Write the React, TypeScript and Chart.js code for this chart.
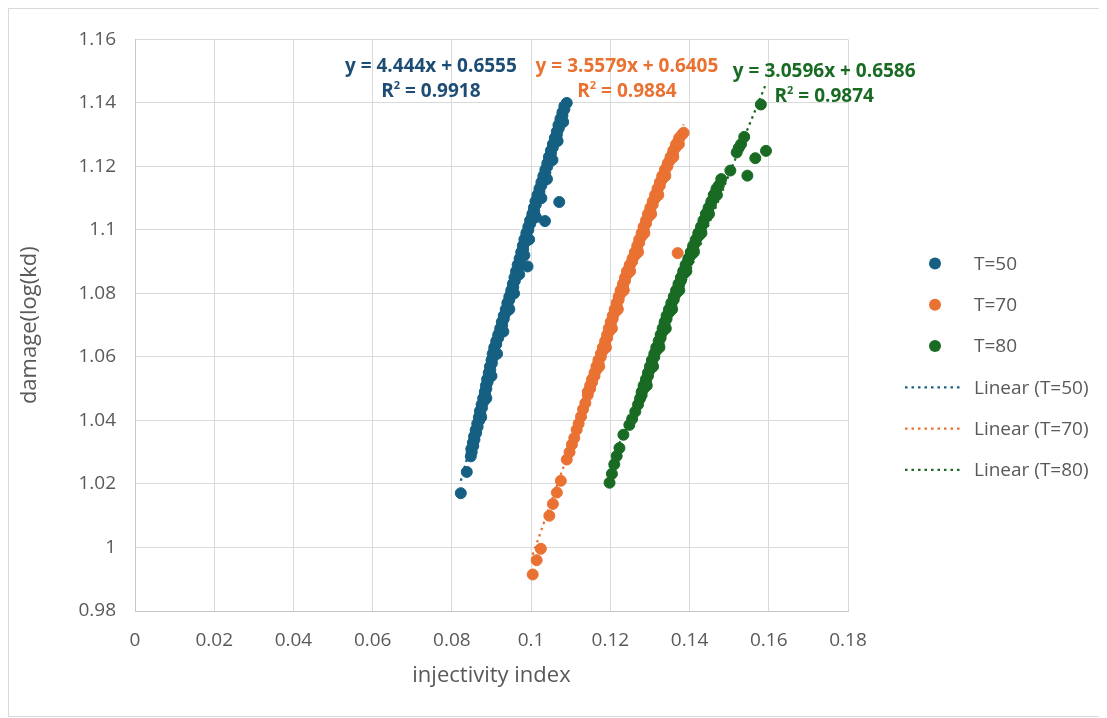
import React, { useEffect, useRef } from "react";
import { Chart, registerables } from "chart.js";

Chart.register(...registerables);

const FONT = "'Open Sans', 'DejaVu Sans', sans-serif";
const TEXT_GRAY = "#595959";

// ---- axis ticks ----
const xTickValues = [0, 0.02, 0.04, 0.06, 0.08, 0.1, 0.12, 0.14, 0.16, 0.18];
const xTickLabels = ["0", "0.02", "0.04", "0.06", "0.08", "0.1", "0.12", "0.14", "0.16", "0.18"];
const yTickValues = [0.98, 1, 1.02, 1.04, 1.06, 1.08, 1.1, 1.12, 1.14, 1.16];
const yTickLabels = ["0.98", "1", "1.02", "1.04", "1.06", "1.08", "1.1", "1.12", "1.14", "1.16"];

// ---- series: [injectivity index, damage] ----
const t50Points = [
  [0.08225, 1.0171], [0.08376, 1.0238], [0.08477, 1.0287],
  [0.0850, 1.030], [0.0854, 1.032], [0.0857, 1.034], [0.0861, 1.036], [0.0865, 1.038],
  [0.0869, 1.040], [0.0872, 1.042], [0.0876, 1.044], [0.0880, 1.046], [0.0884, 1.048],
  [0.0887, 1.050], [0.0890, 1.052], [0.0894, 1.054], [0.0897, 1.056], [0.0901, 1.058],
  [0.0904, 1.060], [0.0907, 1.062], [0.0912, 1.064], [0.0917, 1.066], [0.0922, 1.068],
  [0.0927, 1.070], [0.0931, 1.072], [0.0936, 1.074], [0.0941, 1.076], [0.0945, 1.078],
  [0.0950, 1.080], [0.0955, 1.082], [0.0959, 1.084], [0.0963, 1.086], [0.0967, 1.088],
  [0.0971, 1.090], [0.0976, 1.092], [0.0980, 1.094], [0.0984, 1.096], [0.0988, 1.098],
  [0.0993, 1.100], [0.0998, 1.102], [0.1003, 1.104], [0.1008, 1.106], [0.1012, 1.108],
  [0.1016, 1.110], [0.1021, 1.112], [0.1026, 1.114], [0.1031, 1.116], [0.1036, 1.118],
  [0.1041, 1.120], [0.1046, 1.122], [0.1050, 1.124], [0.1055, 1.126], [0.1060, 1.128],
  [0.1065, 1.130], [0.1070, 1.132], [0.1074, 1.134], [0.1079, 1.136], [0.1084, 1.138],
  [0.1090, 1.140],
  [0.0849, 1.031], [0.0853, 1.033], [0.0856, 1.035], [0.0860, 1.037], [0.0864, 1.039],
  [0.0868, 1.041], [0.0871, 1.043], [0.0875, 1.045], [0.0879, 1.047], [0.0883, 1.049],
  [0.0886, 1.051], [0.0889, 1.053], [0.0893, 1.055], [0.0896, 1.057], [0.0900, 1.059],
  [0.0903, 1.061], [0.0907, 1.063], [0.0912, 1.065], [0.0917, 1.067], [0.0922, 1.069],
  [0.0926, 1.071], [0.0931, 1.073], [0.0936, 1.075], [0.0940, 1.077], [0.0945, 1.079],
  [0.0950, 1.081], [0.0954, 1.083], [0.0958, 1.085], [0.0962, 1.087], [0.0966, 1.089],
  [0.0971, 1.091], [0.0975, 1.093], [0.0979, 1.095], [0.0983, 1.097], [0.0988, 1.099],
  [0.0993, 1.101], [0.0998, 1.103], [0.1003, 1.105], [0.1007, 1.107], [0.1011, 1.109],
  [0.1016, 1.111], [0.1021, 1.113], [0.1026, 1.115], [0.1031, 1.117], [0.1036, 1.119],
  [0.1041, 1.121], [0.1045, 1.123], [0.1050, 1.125], [0.1055, 1.127], [0.1060, 1.129],
  [0.1065, 1.131], [0.1069, 1.133], [0.1074, 1.135], [0.1079, 1.137], [0.1084, 1.139],
  [0.0874, 1.041], [0.0887, 1.047], [0.0900, 1.054], [0.0914, 1.061], [0.0930, 1.068],
  [0.0945, 1.075], [0.0957, 1.080], [0.0970, 1.086], [0.0983, 1.092], [0.0995, 1.097],
  [0.1012, 1.104], [0.1026, 1.110], [0.1040, 1.116], [0.1054, 1.122], [0.1067, 1.128],
  [0.1081, 1.134],
  [0.1071, 1.1088], [0.1035, 1.1028], [0.0998, 1.1030], [0.0991, 1.0885], [0.1009, 1.1045],
];

const t70Points = [
  [0.1004, 0.9915], [0.1014, 0.9960], [0.10245, 0.9996], [0.1046, 1.0100], [0.1055, 1.0137],
  [0.1065, 1.0173], [0.1075, 1.0210], [0.1090, 1.0277], [0.1097, 1.0300], [0.1103, 1.0324],
  [0.1109, 1.0345], [0.1115, 1.0371], [0.1120, 1.0390], [0.1126, 1.0412], [0.1131, 1.0435],
  [0.1137, 1.0455],
  [0.1143, 1.048], [0.1149, 1.050], [0.1154, 1.052], [0.1160, 1.054], [0.1165, 1.056],
  [0.1170, 1.058], [0.1176, 1.060], [0.1181, 1.062], [0.1187, 1.064], [0.1192, 1.066],
  [0.1197, 1.068], [0.1201, 1.070], [0.1206, 1.072], [0.1211, 1.074], [0.1216, 1.076],
  [0.1221, 1.078], [0.1226, 1.080], [0.1232, 1.082], [0.1237, 1.084], [0.1242, 1.086],
  [0.1248, 1.088], [0.1255, 1.090], [0.1262, 1.092], [0.1268, 1.094], [0.1273, 1.096],
  [0.1279, 1.098], [0.1284, 1.100], [0.1290, 1.102], [0.1295, 1.104], [0.1301, 1.106],
  [0.1307, 1.108], [0.1313, 1.110], [0.1319, 1.112], [0.1325, 1.114], [0.1331, 1.116],
  [0.1337, 1.118], [0.1344, 1.120], [0.1351, 1.122], [0.1358, 1.124], [0.1365, 1.126],
  [0.1372, 1.128], [0.1381, 1.130], [0.1385, 1.1306],
  [0.1143, 1.049], [0.1149, 1.051], [0.1154, 1.053], [0.1160, 1.055], [0.1165, 1.057],
  [0.1170, 1.059], [0.1176, 1.061], [0.1181, 1.063], [0.1187, 1.065], [0.1192, 1.067],
  [0.1196, 1.069], [0.1201, 1.071], [0.1206, 1.073], [0.1211, 1.075], [0.1216, 1.077],
  [0.1221, 1.079], [0.1226, 1.081], [0.1232, 1.083], [0.1237, 1.085], [0.1242, 1.087],
  [0.1249, 1.089], [0.1256, 1.091], [0.1262, 1.093], [0.1268, 1.095], [0.1273, 1.097],
  [0.1279, 1.099], [0.1284, 1.101], [0.1290, 1.103], [0.1295, 1.105], [0.1301, 1.107],
  [0.1307, 1.109], [0.1313, 1.111], [0.1319, 1.113], [0.1325, 1.115], [0.1331, 1.117],
  [0.1338, 1.119], [0.1345, 1.121], [0.1352, 1.123], [0.1359, 1.125], [0.1366, 1.127],
  [0.1374, 1.129],
  [0.1172, 1.057], [0.1189, 1.063], [0.1204, 1.069], [0.1219, 1.075], [0.1234, 1.081],
  [0.1250, 1.087], [0.1270, 1.093], [0.1286, 1.099], [0.1303, 1.105], [0.1321, 1.111],
  [0.1339, 1.117], [0.1359, 1.123], [0.1373, 1.127],
  [0.1370, 1.0927],
];

const t80Points = [
  [0.1198, 1.0204], [0.1204, 1.0232], [0.1210, 1.0262], [0.1216, 1.0288], [0.1223, 1.0313],
  [0.1233, 1.0355], [0.1248, 1.0386], [0.1255, 1.0405], [0.1263, 1.0428], [0.1270, 1.0450],
  [0.1275, 1.0469],
  [0.1279, 1.048], [0.1284, 1.050], [0.1290, 1.052], [0.1295, 1.054], [0.1300, 1.056],
  [0.1305, 1.058], [0.1311, 1.060], [0.1316, 1.062], [0.1322, 1.064], [0.1327, 1.066],
  [0.1332, 1.068], [0.1337, 1.070], [0.1342, 1.072], [0.1348, 1.074], [0.1354, 1.076],
  [0.1360, 1.078], [0.1366, 1.080], [0.1372, 1.082], [0.1378, 1.084], [0.1384, 1.086],
  [0.1390, 1.088], [0.1396, 1.090], [0.1403, 1.092], [0.1409, 1.094], [0.1415, 1.096],
  [0.1422, 1.098], [0.1428, 1.100], [0.1435, 1.102], [0.1441, 1.104], [0.1447, 1.106],
  [0.1454, 1.108], [0.1461, 1.110], [0.1467, 1.112], [0.1474, 1.114],
  [0.1279, 1.049], [0.1284, 1.051], [0.1290, 1.053], [0.1295, 1.055], [0.1300, 1.057],
  [0.1305, 1.059], [0.1311, 1.061], [0.1316, 1.063], [0.1322, 1.065], [0.1327, 1.067],
  [0.1332, 1.069], [0.1337, 1.071], [0.1342, 1.073], [0.1348, 1.075], [0.1354, 1.077],
  [0.1360, 1.079], [0.1366, 1.081], [0.1372, 1.083], [0.1378, 1.085], [0.1384, 1.087],
  [0.1390, 1.089], [0.1397, 1.091], [0.1403, 1.093], [0.1409, 1.095], [0.1416, 1.097],
  [0.1422, 1.099], [0.1429, 1.101], [0.1435, 1.103], [0.1441, 1.105], [0.1448, 1.107],
  [0.1455, 1.109], [0.1461, 1.111], [0.1468, 1.113],
  [0.1292, 1.051], [0.1308, 1.057], [0.1324, 1.063], [0.1340, 1.069], [0.1356, 1.075],
  [0.1374, 1.081], [0.1392, 1.087], [0.1411, 1.093], [0.1430, 1.099], [0.1449, 1.105],
  [0.1469, 1.111],
  [0.1480, 1.1160], [0.1503, 1.1187], [0.1519, 1.1244], [0.1524, 1.1258], [0.1530, 1.1270],
  [0.1538, 1.1293], [0.1580, 1.1395],
  [0.1546, 1.1171], [0.1566, 1.1226], [0.1593, 1.1249],
];

// ---- linear trendlines (Excel) ----
const t50Slope = 4.444, t50Intercept = 0.6555;
const t70Slope = 3.5579, t70Intercept = 0.6405;
const t80Slope = 3.0596, t80Intercept = 0.6586;

const seriesLabels = ["T=50", "T=70", "T=80"];
const seriesColors = ["#156082", "#E97132", "#196B24"];
const labelColors = ["#1D4C74", "#E97132", "#196B24"];
const equationTexts = ["y = 4.444x + 0.6555", "y = 3.5579x + 0.6405", "y = 3.0596x + 0.6586"];
const r2Values = ["0.9918", "0.9884", "0.9874"];
// label anchors in data units (centre of equation line)
const labelAnchors = [
  { x: 0.0747, y: 1.1513 },
  { x: 0.1242, y: 1.1513 },
  { x: 0.1740, y: 1.1498 },
];

const allPoints = [t50Points, t70Points, t80Points];
const slopes = [t50Slope, t70Slope, t80Slope];
const intercepts = [t50Intercept, t70Intercept, t80Intercept];

const annotationPlugin = {
  id: "trendLabels",
  afterDatasetsDraw(chart) {
    const { ctx, scales } = chart;
    ctx.save();
    ctx.textBaseline = "middle";
    labelAnchors.forEach((a, i) => {
      const px = scales.x.getPixelForValue(a.x);
      const py = scales.y.getPixelForValue(a.y);
      ctx.fillStyle = labelColors[i];
      ctx.font = `bold 19px ${FONT}`;
      ctx.textAlign = "center";
      ctx.fillText(equationTexts[i], px, py);
      // R² line with a raised small "2"
      const big = `bold 19px ${FONT}`;
      const small = `bold 11px ${FONT}`;
      const rest = ` = ${r2Values[i]}`;
      ctx.font = big;
      const wR = ctx.measureText("R").width;
      const wRest = ctx.measureText(rest).width;
      ctx.font = small;
      const w2 = ctx.measureText("2").width;
      const total = wR + w2 + wRest;
      let sx = px - total / 2;
      const y2 = py + 25;
      ctx.textAlign = "left";
      ctx.font = big;
      ctx.fillText("R", sx, y2);
      sx += wR;
      ctx.font = small;
      ctx.fillText("2", sx, y2 - 6);
      sx += w2;
      ctx.font = big;
      ctx.fillText(rest, sx, y2);
    });
    ctx.restore();
  },
};

const legendPlugin = {
  id: "sideLegend",
  afterDraw(chart) {
    const { ctx, chartArea } = chart;
    const left = chartArea.right + 57;
    const lineW = 58;
    const textX = left + 69;
    const spacing = 41.3;
    const centerY = (chartArea.top + chartArea.bottom) / 2 + 41.5;
    const items = [
      ...seriesLabels.map((l, i) => ({ text: l, color: seriesColors[i], kind: "dot" })),
      ...seriesLabels.map((l, i) => ({ text: `Linear (${l})`, color: seriesColors[i], kind: "line" })),
    ];
    ctx.save();
    ctx.font = `19px ${FONT}`;
    ctx.textBaseline = "middle";
    ctx.textAlign = "left";
    items.forEach((it, i) => {
      const y = centerY + (i - (items.length - 1) / 2) * spacing;
      if (it.kind === "dot") {
        ctx.fillStyle = it.color;
        ctx.beginPath();
        ctx.arc(left + 30, y, 6, 0, Math.PI * 2);
        ctx.fill();
      } else {
        ctx.strokeStyle = it.color;
        ctx.lineWidth = 2.2;
        ctx.setLineDash([2.5, 4]);
        ctx.beginPath();
        ctx.moveTo(left, y);
        ctx.lineTo(left + lineW, y);
        ctx.stroke();
        ctx.setLineDash([]);
      }
      ctx.fillStyle = TEXT_GRAY;
      ctx.fillText(it.text, textX, y + 1);
    });
    ctx.restore();
  },
};

export default function App() {
  const canvasRef = useRef(null);

  useEffect(() => {
    const scatterSets = allPoints.map((pts, i) => ({
      type: "scatter",
      label: seriesLabels[i],
      data: pts.map(([x, y]) => ({ x, y })),
      backgroundColor: seriesColors[i],
      borderColor: seriesColors[i],
      pointRadius: 5.5,
      pointBorderWidth: 1,
      pointHoverRadius: 5.5,
      order: 2,
    }));
    const lineSets = allPoints.map((pts, i) => {
      const xs = pts.map((p) => p[0]);
      const minX = Math.min(...xs);
      const maxX = Math.max(...xs);
      return {
        type: "line",
        label: `Linear (${seriesLabels[i]})`,
        data: [
          { x: minX, y: slopes[i] * minX + intercepts[i] },
          { x: maxX, y: slopes[i] * maxX + intercepts[i] },
        ],
        borderColor: seriesColors[i],
        borderWidth: 2.2,
        borderDash: [2.5, 4],
        pointRadius: 0,
        fill: false,
        tension: 0,
        order: 0,
      };
    });

    const chart = new Chart(canvasRef.current, {
      type: "scatter",
      data: { datasets: [...scatterSets, ...lineSets] },
      options: {
        responsive: false,
        maintainAspectRatio: false,
        animation: false,
        layout: { padding: { left: 0, top: 25, right: 257, bottom: 0 } },
        plugins: {
          legend: { display: false },
          tooltip: { enabled: false },
        },
        scales: {
          x: {
            type: "linear",
            min: 0,
            max: 0.18,
            afterBuildTicks: (scale) => {
              scale.ticks = xTickValues.map((v) => ({ value: v }));
            },
            afterFit: (scale) => {
              scale.height = 105;
            },
            ticks: {
              callback: (_v, idx) => xTickLabels[idx],
              color: TEXT_GRAY,
              font: { family: FONT, size: 19 },
              padding: 18,
              maxRotation: 0,
            },
            grid: { color: "#D9D9D9", lineWidth: 1, drawTicks: false },
            border: { color: "#C6C6C6", width: 1 },
            title: {
              display: true,
              text: "injectivity index",
              color: TEXT_GRAY,
              font: { family: FONT, size: 22 },
              padding: { top: 0, bottom: 27 },
            },
          },
          y: {
            type: "linear",
            min: 0.98,
            max: 1.16,
            afterBuildTicks: (scale) => {
              scale.ticks = yTickValues.map((v) => ({ value: v }));
            },
            afterFit: (scale) => {
              scale.width = 126;
            },
            ticks: {
              callback: (_v, idx) => yTickLabels[idx],
              color: TEXT_GRAY,
              font: { family: FONT, size: 19 },
              padding: 19,
            },
            grid: { color: "#D9D9D9", lineWidth: 1, drawTicks: false },
            border: { color: "#C6C6C6", width: 1 },
            title: {
              display: true,
              text: "damage(log(kd)",
              color: TEXT_GRAY,
              font: { family: FONT, size: 22 },
              padding: { top: 8, bottom: 0 },
            },
          },
        },
      },
      plugins: [annotationPlugin, legendPlugin],
    });
    return () => chart.destroy();
  }, []);

  return (
    <div
      style={{
        width: 1098,
        height: 709,
        border: "1px solid #D9D9D9",
        boxSizing: "border-box",
        background: "#fff",
      }}
    >
      <canvas ref={canvasRef} width={1096} height={707} style={{ display: "block" }} />
    </div>
  );
}
